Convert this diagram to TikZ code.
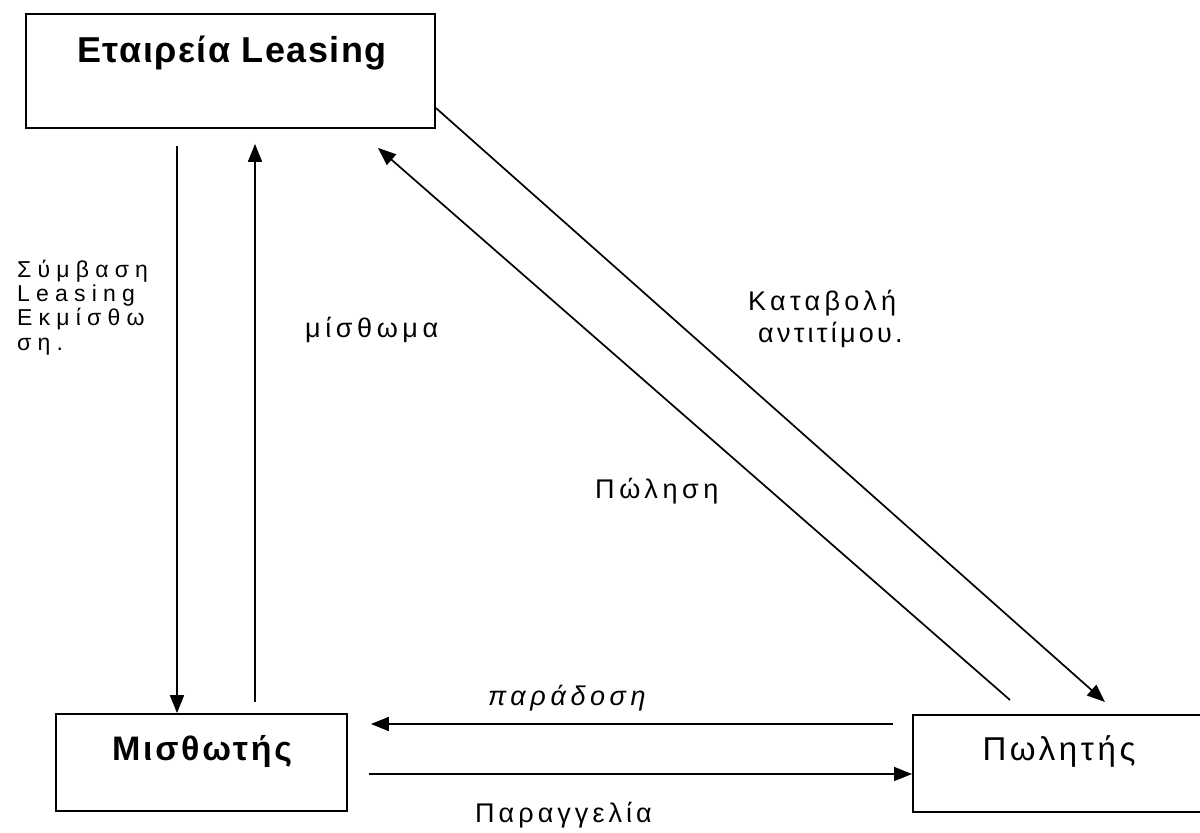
\documentclass[tikz,border=0pt]{standalone}
\usepackage{fontspec}
\setmainfont{Liberation Sans}
\usetikzlibrary{arrows.meta,calc}

% size, letter spacing, text
\newcommand{\spc}[3]{\fontsize{#1}{#1}\selectfont\addfontfeatures{LetterSpace=#2}#3}

\begin{document}
\begin{tikzpicture}[x=1pt,y=-1pt,
  box/.style={draw, rectangle, line width=1.8pt, inner sep=0pt},
  arr/.style={line width=1.7pt, -{Triangle[length=18pt,width=14pt]}},
  lbl/.style={anchor=base west, inner sep=0pt},
  ttl/.style={anchor=base, inner sep=0pt}]
\useasboundingbox (0,0) rectangle (1200,833);
\clip (0,0) rectangle (1200,833);

% the three parties
\node[box, minimum width=409pt, minimum height=114pt] (lease) at (230.5,71) {};
\node[box, minimum width=291pt, minimum height=97pt] (lessee) at (201.5,762.5) {};
\node[box, minimum width=320pt, minimum height=97pt, anchor=north west] (seller) at (912,714) {};

\node[ttl] (leaseT) at (232,62) {\bfseries\spc{36}{4}{Εταιρεία Leasing}};
\node[ttl] (lesseeT) at (202,760) {\bfseries\spc{34}{8}{Μισθωτής}};
\node[ttl] (sellerT) at (1059,760) {\spc{33}{11}{Πωλητής}};

% lease contract down, rent up
\draw[arr] ($(lease.south -| 177,0)+(0,17)$) -- (lessee.north -| 177,0);
\draw[arr] ($(lessee.north -| 255,0)+(0,-11)$) -- ($(lease.south -| 255,0)+(0,15)$);

% payment to the seller, sale back to the company
\draw[arr] (lease.east |- 0,108) -- ($(seller.north -| 1105,0)+(0,-12)$);
\draw[arr] ($(seller.north -| 1010,0)+(0,-14)$) -- ($(lease.south -| 378,0)+(0,19)$);

% delivery and order
\draw[arr] ($(seller.west |- 0,724)+(-19,0)$) -- ($(lessee.east |- 0,724)+(23,0)$);
\draw[arr] ($(lessee.east |- 0,774)+(21,0)$) -- (seller.west |- 0,774);

% labels
\node[lbl] (c1) at (17,277) {\spc{23}{27}{Σύμβαση}};
\node[lbl] (c2) at (17,301) {\spc{23}{27}{Leasing}};
\node[lbl] (c3) at (17,325) {\spc{23}{27}{Εκμίσθω}};
\node[lbl] (c4) at (17,350) {\spc{23}{27}{ση.}};
\node[lbl] (rent) at (305,337) {\spc{27}{17}{μίσθωμα}};
\node[lbl] (pay1) at (748,310) {\spc{27}{16}{Καταβολή}};
\node[lbl] (pay2) at (758,342) {\spc{27}{12}{αντιτίμου.}};
\node[lbl] (sale) at (595,498) {\spc{27}{17}{Πώληση}};
\node[lbl] (deliv) at (488,705) {\itshape\spc{27}{17}{παράδοση}};
\node[lbl] (order) at (475,822) {\spc{27}{15}{Παραγγελία}};
\end{tikzpicture}
\end{document}
